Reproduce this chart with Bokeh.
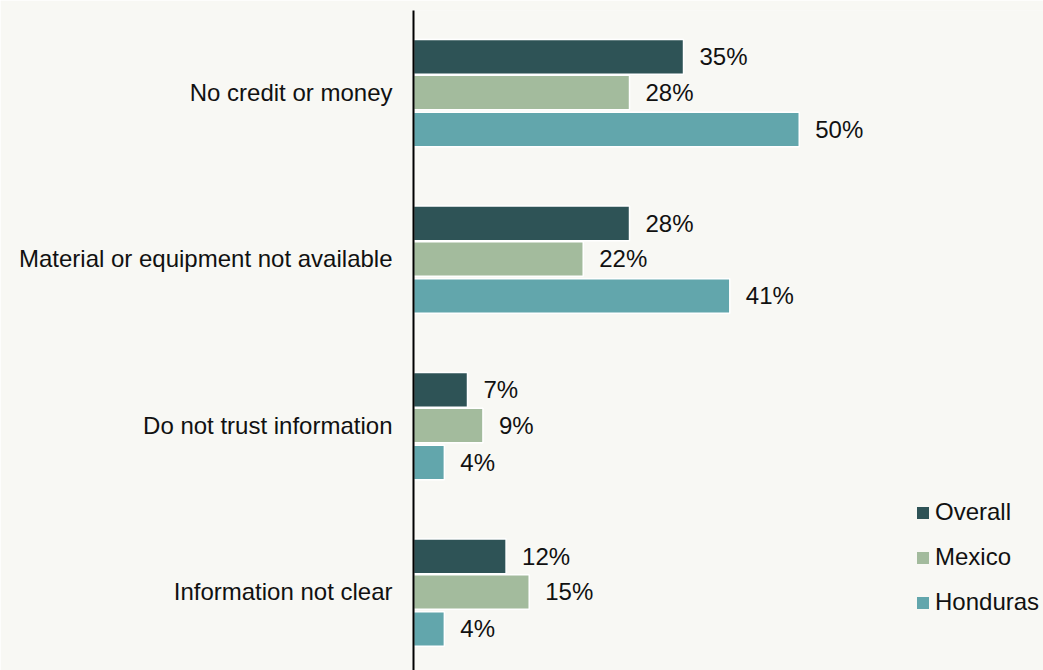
from bokeh.plotting import figure
from bokeh.models import ColumnDataSource, Range1d, FixedTicker, Legend, LegendItem
from bokeh.core.properties import value
from bokeh.embed import file_html
from bokeh.resources import INLINE

categories = ["No credit or money", "Material or equipment not available",
              "Do not trust information", "Information not clear"]
series_names = ["Overall", "Mexico", "Honduras"]
overall = [35, 28, 7, 12]
mexico = [28, 22, 9, 15]
honduras = [50, 41, 4, 4]

colors = ["#2E5356", "#A3BB9D", "#62A6AC"]
offsets = [-0.214, 0.0, 0.222]
BG = "#F8F8F4"
FONT = "Liberation Sans"

p = figure(width=1043, height=670, output_backend="svg", toolbar_location=None,
           x_range=Range1d(0, 81.66), y_range=Range1d(3.4715, -0.4925),
           min_border_left=413, min_border_right=0, min_border_top=10, min_border_bottom=0,
           background_fill_color=BG, border_fill_color=BG)
p.outline_line_color = None
p.xaxis.visible = False
p.xgrid.visible = False
p.ygrid.visible = False

ax = p.yaxis[0]
ax.ticker = FixedTicker(ticks=list(range(len(categories))))
ax.major_label_overrides = {i: c for i, c in enumerate(categories)}
ax.major_tick_line_color = None
ax.minor_tick_line_color = None
ax.axis_line_color = "black"
ax.axis_line_width = 2
ax.major_label_standoff = 15
ax.major_label_text_font = FONT
ax.major_label_text_font_size = "24px"
ax.major_label_text_color = "#111111"

items = []
for name, vals, col, off in zip(series_names, [overall, mexico, honduras], colors, offsets):
    ys = [i + off for i in range(len(categories))]
    src = ColumnDataSource(dict(y=ys, v=vals, lab=[f"{v}%" for v in vals]))
    p.hbar(y="y", right="v", left=0, height=0.208, source=src,
           fill_color=col, line_color="white", line_width=1.5)
    p.text(x="v", y="y", text="lab", source=src, x_offset=16,
           text_baseline="middle", text_align="left",
           text_font=value(FONT), text_font_size="24px", text_color="#111111")
    # legend-only swatch placed outside the visible range
    dummy = p.quad(left=[-20], right=[-19], top=[-5], bottom=[-6],
                   fill_color=col, line_color=None)
    items.append(LegendItem(label=name, renderers=[dummy]))

legend = Legend(items=items, location=(502, 54), orientation="vertical")
legend.background_fill_alpha = 0
legend.border_line_color = None
legend.padding = 0
legend.margin = 0
legend.spacing = 17
legend.glyph_width = 15
legend.glyph_height = 15
legend.label_height = 20
legend.label_standoff = 5
legend.label_text_font = FONT
legend.label_text_font_size = "24px"
legend.label_text_color = "#111111"
p.add_layout(legend, "center")

open("out.html", "w").write(file_html(p, INLINE))
